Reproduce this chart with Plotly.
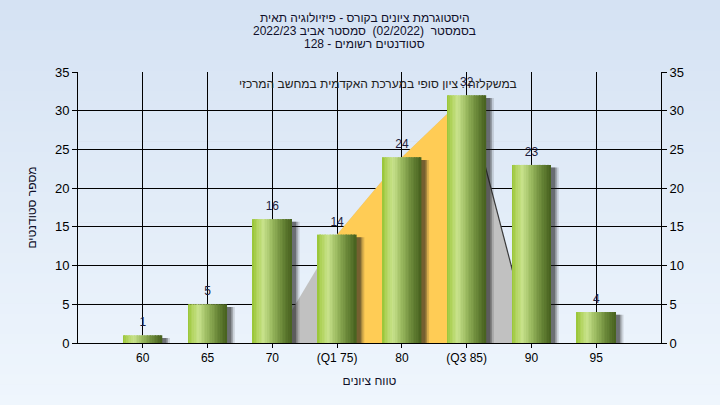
import plotly.graph_objects as go

# ---------------- data ----------------
categories = ["60", "65", "70", "(Q1 75)", "80", "(Q3 85)", "90", "95"]
counts = [1, 5, 16, 14, 24, 32, 23, 4]
# background distribution area (grey) and inter-quartile part (orange)
area_values = [None, None, 0, 14, 24, 32, 0, None]
iqr_values = [None, None, None, 14, 24, 32, None, None]
y_ticks = [0, 5, 10, 15, 20, 25, 30, 35]

title_lines = [
    "היסטוגרמת ציונים בקורס - פיזיולוגיה תאית",
    "בסמסטר  (02/2022)  סמסטר אביב 2022/23",
    "סטודנטים רשומים - 128",
]
note_text = "במשקלזה : ציון סופי במערכת האקדמית במחשב המרכזי"
x_title = "טווח ציונים"
y_title = "מספר סטודנטים"

RLE, PDF = "\u202b", "\u202c"


def rtl(s):
    return RLE + s + PDF


FONT = "Liberation Sans, Arial, sans-serif"

fig = go.Figure()

# ---- base subplot: distribution areas (drawn beneath the bars) ----
ax = [c for c, v in zip(categories, area_values) if v is not None]
ay = [v for v in area_values if v is not None]
fig.add_trace(go.Scatter(x=ax, y=ay, mode="lines", fill="tozeroy",
                         fillcolor="#c1c1c1", line=dict(width=0, color="#c1c1c1"),
                         hoverinfo="skip", showlegend=False))
peak = max(range(len(area_values)), key=lambda i: area_values[i] if area_values[i] is not None else -1)
fig.add_trace(go.Scatter(x=categories[peak:peak + 2], y=area_values[peak:peak + 2], mode="lines",
                         line=dict(width=1.2, color="#3a3a3a"), hoverinfo="skip", showlegend=False))
ox = [c for c, v in zip(categories, iqr_values) if v is not None]
oy = [v for v in iqr_values if v is not None]
fig.add_trace(go.Scatter(x=ox, y=oy, mode="lines", fill="tozeroy",
                         fillcolor="#ffcc55", line=dict(width=0, color="#ffcc55"),
                         hoverinfo="skip", showlegend=False))

# ---- overlay subplot: bars, shadows, labels ----
BW = 0.6
for off, alpha in [(0.12, 0.15), (0.09, 0.28), (0.065, 0.35)]:
    fig.add_trace(go.Bar(x=categories, y=[c - 0.35 for c in counts], width=BW,
                         offset=-BW / 2 + off, xaxis="x2", yaxis="y2",
                         marker=dict(color=f"rgba(25,25,25,{alpha})", line=dict(width=0)),
                         hoverinfo="skip", showlegend=False))

stops = [(0.0, (150, 196, 52)), (0.12, (178, 212, 95)), (0.28, (200, 226, 140)),
         (0.5, (155, 186, 96)), (0.75, (108, 138, 58)), (1.0, (70, 96, 30))]


def col(t):
    for (t0, c0), (t1, c1) in zip(stops[:-1], stops[1:]):
        if t0 <= t <= t1:
            f = (t - t0) / (t1 - t0)
            return "rgb(%d,%d,%d)" % tuple(round(a + (b - a) * f) for a, b in zip(c0, c1))
    return "rgb(%d,%d,%d)" % stops[-1][1]


N = 24
sw = BW / N
for i in range(N):
    t = (i + 0.5) / N
    fig.add_trace(go.Bar(x=categories, y=counts, width=sw * 1.05, offset=-BW / 2 + i * sw,
                         xaxis="x2", yaxis="y2",
                         marker=dict(color=col(t), line=dict(width=0)),
                         hoverinfo="skip", showlegend=False))

fig.add_trace(go.Scatter(x=categories, y=counts, mode="markers+text", text=[str(c) for c in counts],
                         textposition="top center", xaxis="x2", yaxis="y2",
                         marker=dict(size=8, opacity=0),
                         textfont=dict(family=FONT, size=12, color="#1c1c3c"),
                         hoverinfo="skip", showlegend=False))

# background gradient bands (paper)
shapes = []
NB = 40
top = (213, 226, 243)
bot = (239, 246, 253)
y0p, y1p = -62 / 271, 1 + 72 / 271
for k in range(NB):
    f = k / (NB - 1)
    c = tuple(round(b + (t - b) * f) for t, b in zip(top, bot))
    ya = y0p + (y1p - y0p) * k / NB
    yb = y0p + (y1p - y0p) * (k + 1) / NB
    shapes.append(dict(type="rect", xref="paper", yref="paper", x0=-0.2, x1=1.2,
                       y0=ya, y1=yb + 0.002, fillcolor="rgb(%d,%d,%d)" % c,
                       line=dict(width=0), layer="below"))

annotations = []
for line, yp in zip(title_lines, [1.199, 1.151, 1.103]):
    annotations.append(dict(text=rtl(line), xref="paper", yref="paper", x=0.492, y=yp,
                            showarrow=False, xanchor="center", yanchor="middle",
                            font=dict(family=FONT, size=12, color="#10102a")))
annotations.append(dict(text=rtl(note_text), xref="paper", yref="paper", x=0.515, y=0.955,
                        showarrow=False, xanchor="center", yanchor="middle",
                        font=dict(family=FONT, size=12, color="#202020")))

axis_common = dict(range=[0, 35], tickvals=y_ticks, ticks="outside", ticklen=5,
                   tickcolor="black", linecolor="black", showline=True, linewidth=1,
                   tickfont=dict(family=FONT, size=13, color="#000000"), zeroline=False)

fig.update_layout(
    width=720, height=405,
    margin=dict(l=78, r=59, t=72, b=62),
    paper_bgcolor="#e3edf9",
    plot_bgcolor="#b4b4b4",
    barmode="overlay",
    shapes=shapes,
    annotations=annotations,
    xaxis=dict(type="category", categoryorder="array", categoryarray=categories,
               range=[-1, 8], showgrid=True, gridcolor="black", gridwidth=1,
               ticks="outside", ticklen=4, tickcolor="black", showline=True,
               linecolor="black",
               tickfont=dict(family=FONT, size=12, color="#000000"),
               title=dict(text=rtl(x_title), font=dict(family=FONT, size=12, color="#10102a"), standoff=12)),
    xaxis2=dict(type="category", categoryorder="array", categoryarray=categories,
                range=[-1, 8], overlaying="x", visible=False),
    yaxis=dict(**axis_common, showgrid=True, gridcolor="black", gridwidth=1,
               title=dict(text=rtl(y_title), font=dict(family=FONT, size=12, color="#10102a"), standoff=15)),
    yaxis2=dict(**axis_common, overlaying="y", side="right", showgrid=False),
    showlegend=False,
)

fig.write_html("out.html", config={"displayModeBar": False},
               post_script="document.body.style.margin='0px';")
